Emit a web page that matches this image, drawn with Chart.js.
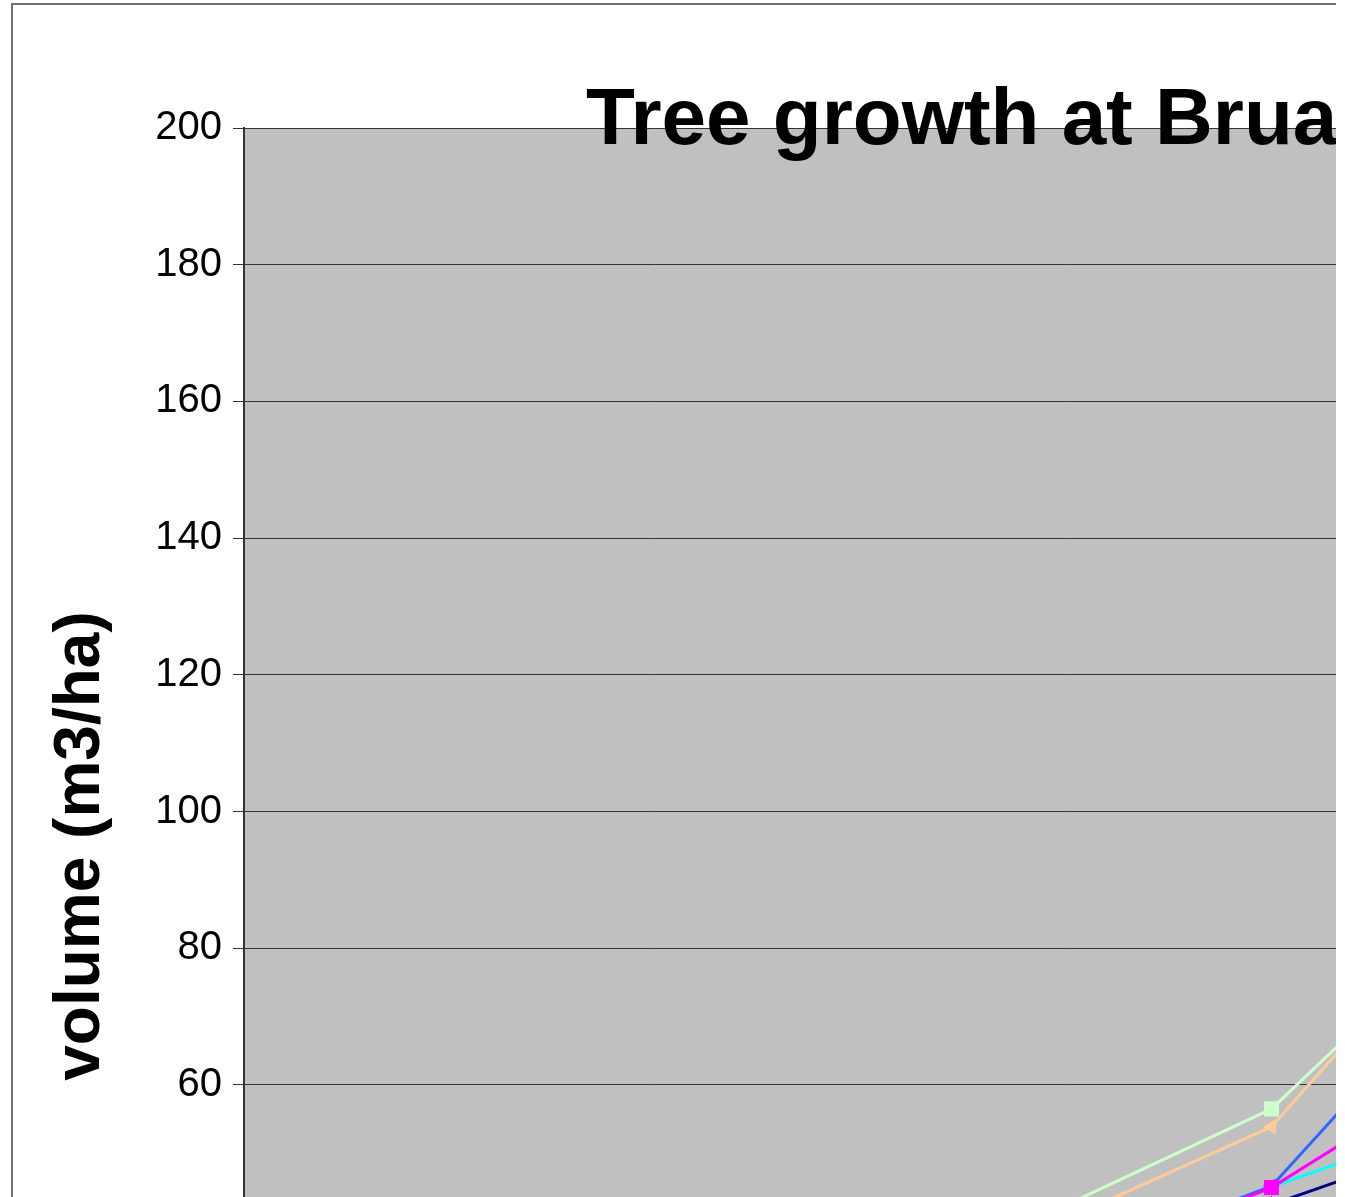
<!DOCTYPE html>
<html>
<head>
<meta charset="utf-8">
<script src="https://cdn.jsdelivr.net/npm/chart.js@4"></script>
<style>
html, body { margin:0; padding:0; background:#fff; overflow:hidden; width:1345px; height:1197px; }
#wrap { position:absolute; left:0; top:0; width:1336px; height:1197px; overflow:hidden; background:#fff; }
canvas { position:absolute; left:0; top:0; }
</style>
</head>
<body>
<div id="wrap"><canvas id="c" width="2000" height="1700"></canvas></div>
<script>
// ---- data ----
const chartTitle = 'Tree growth at Brua';
const yAxisTitle = 'volume (m3/ha)';
const categories = ['1', '2', '3', '4'];
const yMin = 0, yMax = 200, yStep = 20;

const greenValues   = [14.0, 28.4, 56.5, 113.6];
const peachValues   = [13.0, 26.8, 53.9, 121.5];
const blueValues    = [11.0, 22.6, 45.2, 111.3];
const magentaValues = [10.0, 21.3, 45.0, 82.6];
const cyanValues    = [9.0, 19.8, 45.1, 66.1];
const navyValues    = [8.0, 18.5, 42.5, 63.5];

const FONT = "'Liberation Sans', Arial, sans-serif";

const deco = {
  id: 'deco',
  beforeDraw(chart) {
    const { ctx, chartArea: a } = chart;
    ctx.save();
    ctx.fillStyle = '#fff';
    ctx.fillRect(0, 0, chart.width, chart.height);
    ctx.strokeStyle = '#707070';
    ctx.lineWidth = 2;
    ctx.strokeRect(12, 4, chart.width, chart.height);
    ctx.fillStyle = '#C0C0C0';
    ctx.fillRect(a.left, a.top, a.right - a.left, a.bottom - a.top);
    ctx.restore();
  },
  afterDraw(chart) {
    const ctx = chart.ctx;
    ctx.save();
    ctx.fillStyle = '#000';
    ctx.font = 'bold 80px ' + FONT;
    ctx.textAlign = 'left';
    ctx.textBaseline = 'alphabetic';
    ctx.fillText(chartTitle, 586, 144);
    ctx.translate(99, 846);
    ctx.rotate(-Math.PI / 2);
    ctx.font = 'bold 64px ' + FONT;
    ctx.textAlign = 'center';
    ctx.fillText(yAxisTitle, 0, 0);
    ctx.restore();
  }
};

function ds(label, data, color, style, radius, rotation) {
  return {
    label, data,
    borderColor: color, backgroundColor: color,
    borderWidth: 3, tension: 0,
    pointStyle: style, pointRadius: radius, pointRotation: rotation || 0,
    pointBorderWidth: 1, pointBorderColor: color, pointBackgroundColor: color
  };
}

new Chart(document.getElementById('c'), {
  type: 'line',
  data: {
    labels: categories,
    datasets: [
      ds('magenta', magentaValues, '#FF00FF', 'rect', 10),
      ds('blue', blueValues, '#3366FF', 'triangle', 8, -90),
      ds('cyan', cyanValues, '#00FFFF', 'crossRot', 5),
      ds('navy', navyValues, '#000080', 'rectRot', 8),
      ds('peach', peachValues, '#FFCC99', 'triangle', 8, -90),
      ds('green', greenValues, '#CCFFCC', 'rect', 10)
    ]
  },
  options: {
    responsive: false,
    animation: false,
    layout: { padding: { left: 0, top: 128, right: 112, bottom: 0 } },
    plugins: { legend: { display: false }, title: { display: false }, tooltip: { enabled: false } },
    scales: {
      x: {
        type: 'category',
        offset: true,
        grid: { display: false },
        border: { display: true, color: '#333', width: 2 },
        ticks: { color: '#000', font: { family: FONT, size: 40 } },
        afterFit: s => { s.height = 1700 - (128 + 200 * 6.8357); }
      },
      y: {
        min: yMin, max: yMax,
        ticks: { stepSize: yStep, color: '#000', padding: 11, font: { family: FONT, size: 40 } },
        grid: { color: '#333', lineWidth: 1, tickLength: 11 },
        border: { display: true, color: '#333', width: 2 },
        afterFit: s => { s.width = 244; }
      }
    }
  },
  plugins: [deco]
});
</script>
</body>
</html>
